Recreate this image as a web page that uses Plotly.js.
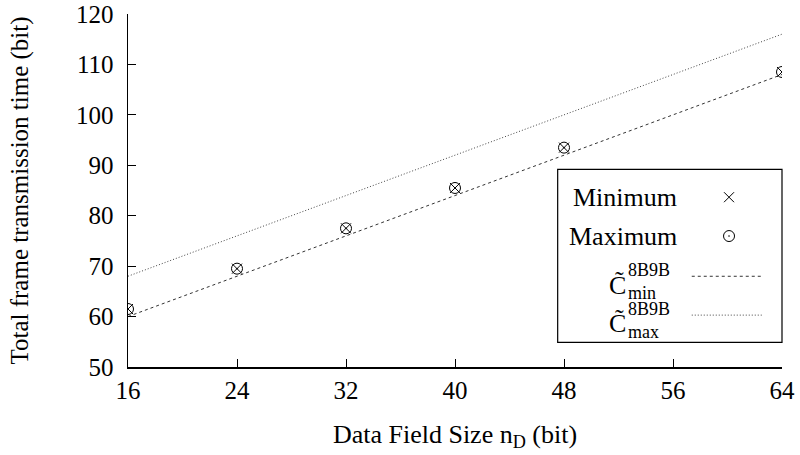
<!DOCTYPE html>
<html>
<head>
<meta charset="utf-8">
<script src="https://cdn.plot.ly/plotly-3.0.1.min.js"></script>
<style>
  html, body { margin: 0; padding: 0; background: #fff; }
  #chart { width: 800px; height: 455px; }
</style>
</head>
<body>
<div id="chart"></div>
<script>
// Data field size (bit) at which the frame time was measured
const nD = [16, 24, 32, 40, 48, 64];
// Measured total frame transmission time (bit)
const minimumTime = [61.5, 69.5, 77.5, 85.5, 93.5, 108.5];
const maximumTime = [61.5, 69.5, 77.5, 85.5, 93.5, 108.5];
// Analytical bounds for 8B9B coding, evaluated at the ends of the range
const nDBound = [16, 64];
const cMin = [60, 108];
const cMax = [68, 116];
// Axis ticks
const xTicks = [16, 24, 32, 40, 48, 56, 64];
const yTicks = [50, 60, 70, 80, 90, 100, 110, 120];

const FONT = 'Liberation Serif, Times New Roman, Times, serif';
const INK = '#000';

const traces = [
  {
    x: nD, y: minimumTime, type: 'scatter', mode: 'markers', name: 'Minimum',
    marker: { symbol: 'x-thin-open', size: 10, color: INK, line: { color: INK, width: 1 } },
    showlegend: false
  },
  {
    x: nD, y: maximumTime, type: 'scatter', mode: 'markers', name: 'Maximum',
    marker: { symbol: 'circle-open-dot', size: 11, color: INK, line: { color: INK, width: 1 } },
    showlegend: false
  },
  {
    x: nDBound, y: cMin, type: 'scatter', mode: 'lines', name: 'C min',
    line: { color: '#333', width: 1, dash: '3px,3px' }, showlegend: false
  },
  {
    x: nDBound, y: cMax, type: 'scatter', mode: 'lines', name: 'C max',
    line: { color: '#444', width: 1, dash: '1px,2px' }, showlegend: false
  },
  // Key samples drawn on a fixed 0..1 overlay so they sit inside the key box
  {
    x: [0.919], y: [0.481], xaxis: 'x2', yaxis: 'y2', type: 'scatter', mode: 'markers',
    marker: { symbol: 'x-thin-open', size: 10, color: INK, line: { color: INK, width: 1 } },
    showlegend: false, hoverinfo: 'skip'
  },
  {
    x: [0.919], y: [0.371], xaxis: 'x2', yaxis: 'y2', type: 'scatter', mode: 'markers',
    marker: { symbol: 'circle-open-dot', size: 11, color: INK, line: { color: INK, width: 1 } },
    showlegend: false, hoverinfo: 'skip'
  },
  {
    x: [0.862, 0.969], y: [0.257, 0.257], xaxis: 'x2', yaxis: 'y2', type: 'scatter', mode: 'lines',
    line: { color: '#333', width: 1, dash: '3px,3px' }, showlegend: false, hoverinfo: 'skip'
  },
  {
    x: [0.862, 0.969], y: [0.147, 0.147], xaxis: 'x2', yaxis: 'y2', type: 'scatter', mode: 'lines',
    line: { color: '#444', width: 1, dash: '1px,2px' }, showlegend: false, hoverinfo: 'skip'
  }
];

function keyText(text, x, y, size, anchor) {
  return {
    xref: 'paper', yref: 'paper', x: x, y: y, text: text, showarrow: false,
    xanchor: anchor, yanchor: 'middle', font: { family: FONT, size: size, color: INK }
  };
}

const layout = {
  width: 800, height: 455,
  margin: { l: 128, r: 18, t: 14, b: 88 },
  paper_bgcolor: '#fff', plot_bgcolor: '#fff',
  font: { family: FONT, size: 25, color: INK },
  showlegend: false,
  xaxis: {
    range: [16, 64], tickvals: xTicks, ticktext: xTicks.map(String),
    ticks: 'inside', ticklen: 8, tickwidth: 1, tickcolor: INK,
    showline: true, linecolor: INK, linewidth: 1.5, mirror: false,
    showgrid: false, zeroline: false,
    tickfont: { family: FONT, size: 25, color: INK },
    title: { text: 'Data Field Size n<sub>D</sub> (bit)', font: { family: FONT, size: 26, color: INK }, standoff: 22 }
  },
  yaxis: {
    range: [50, 120], tickvals: yTicks, ticktext: yTicks.map(String),
    ticks: 'inside', ticklen: 8, tickwidth: 1, tickcolor: INK,
    showline: true, linecolor: INK, linewidth: 1.5, mirror: false,
    showgrid: false, zeroline: false,
    tickfont: { family: FONT, size: 25, color: INK },
    ticklabelstandoff: 8,
    title: { text: 'Total frame transmission time (bit)', font: { family: FONT, size: 25, color: INK }, standoff: 40 }
  },
  xaxis2: { overlaying: 'x', range: [0, 1], visible: false, fixedrange: true },
  yaxis2: { overlaying: 'y', range: [0, 1], visible: false, fixedrange: true },
  shapes: [
    { type: 'rect', xref: 'paper', yref: 'paper', x0: 0.657, x1: 1.0, y0: 0.07, y1: 0.560,
      line: { color: INK, width: 1.2 }, fillcolor: 'rgba(255,255,255,1)', layer: 'below' }
  ],
  annotations: [
    keyText('Minimum', 0.842, 0.481, 26, 'right'),
    keyText('Maximum', 0.842, 0.371, 26, 'right'),
    keyText('C\u0303', 0.765, 0.232, 26, 'right'),
    keyText('8B9B', 0.762, 0.274, 18, 'left'),
    keyText('min', 0.762, 0.210, 18, 'left'),
    keyText('C\u0303', 0.765, 0.122, 26, 'right'),
    keyText('8B9B', 0.762, 0.164, 18, 'left'),
    keyText('max', 0.762, 0.100, 18, 'left')
  ]
};

Plotly.newPlot('chart', traces, layout, { displayModeBar: false, staticPlot: true });
</script>
</body>
</html>
